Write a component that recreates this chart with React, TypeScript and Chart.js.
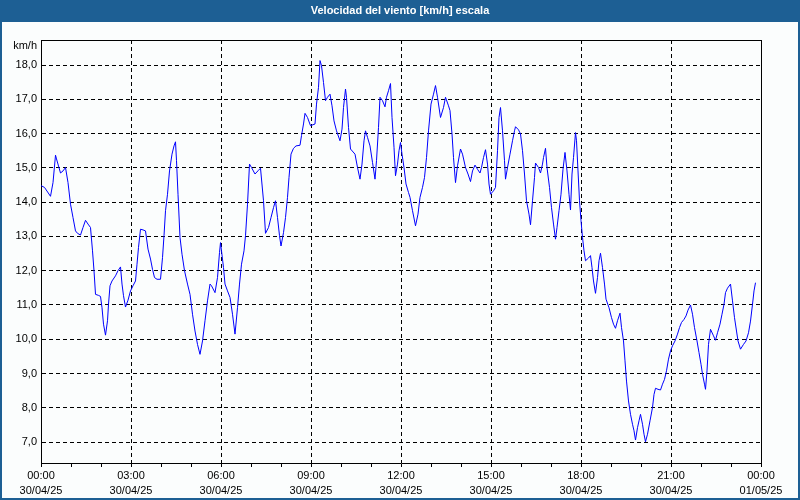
import React, { useEffect, useRef } from "react";
import { Chart, registerables } from "chart.js";

Chart.register(...registerables);

const TITLE = "Velocidad del viento [km/h] escala";
const UNIT = "km/h";

// minutes since 30/04/25 00:00
const MINUTES = [
  0, 7, 19, 24, 29, 31, 39, 44, 49, 54, 59, 64, 69, 73, 79, 84, 89, 94, 99, 103,
  106, 109, 115, 119, 122, 125, 129, 133, 135, 138, 142, 149, 154, 159, 162, 165, 169, 174, 179, 184,
  189, 192, 195, 199, 204, 209, 214, 219, 223, 227, 232, 239, 243, 246, 249, 253, 257, 262, 266, 269,
  271, 274, 278, 282, 287, 293, 298, 303, 308, 313, 318, 323, 328, 333, 338, 341, 348, 353, 357, 359,
  361, 365, 368, 373, 378, 383, 388, 393, 397, 401, 406, 409, 413, 417, 421, 428, 435, 439, 445, 449,
  455, 460, 465, 469, 473, 477, 480, 485, 489, 493, 496, 500, 505, 510, 518, 521, 525, 528, 533, 539,
  548, 551, 555, 558, 561, 565, 569, 573, 578, 582, 586, 591, 598, 602, 605, 609, 611, 615, 619, 628,
  633, 638, 642, 646, 649, 653, 658, 663, 668, 671, 675, 678, 683, 688, 691, 695, 699, 702, 706, 709,
  713, 716, 719, 722, 726, 730, 735, 738, 743, 749, 754, 758, 763, 767, 771, 775, 780, 785, 789, 793,
  799, 805, 809, 815, 818, 822, 825, 829, 833, 839, 843, 849, 854, 859, 863, 868, 873, 878, 881, 885,
  889, 893, 896, 899, 905, 909, 913, 916, 919, 923, 927, 929, 933, 938, 943, 947, 949, 955, 959, 963,
  967, 971, 976, 979, 983, 987, 989, 995, 999, 1003, 1005, 1009, 1012, 1017, 1021, 1025, 1029, 1032, 1036, 1040,
  1044, 1048, 1052, 1056, 1059, 1062, 1065, 1069, 1071, 1074, 1077, 1080, 1083, 1086, 1089, 1095, 1099, 1102, 1105, 1109,
  1113, 1116, 1119, 1123, 1127, 1130, 1136, 1141, 1145, 1149, 1153, 1158, 1161, 1165, 1168, 1171, 1175, 1179, 1183, 1186,
  1189, 1193, 1196, 1199, 1203, 1206, 1209, 1213, 1218, 1223, 1226, 1229, 1234, 1239, 1243, 1247, 1251, 1255, 1259, 1263,
  1268, 1273, 1277, 1281, 1286, 1290, 1294, 1299, 1303, 1307, 1312, 1316, 1320, 1323, 1327, 1329, 1332, 1335, 1339, 1345,
  1349, 1353, 1358, 1362, 1366, 1369, 1373, 1379, 1383, 1387, 1391, 1394, 1399, 1405, 1410, 1415, 1419, 1423, 1426, 1429,
];

// km/h
const SPEED = [
  14.48, 14.43, 14.17, 14.57, 15.37, 15.26, 14.85, 14.91, 15.01, 14.57, 13.94, 13.55, 13.16, 13.09, 13.04, 13.26, 13.47, 13.36, 13.26, 12.58,
  12.0, 11.31, 11.28, 11.25, 10.92, 10.44, 10.12, 10.54, 11.02, 11.56, 11.7, 11.85, 12.0, 12.11, 11.61, 11.27, 10.94, 11.14, 11.41, 11.56,
  11.7, 12.19, 12.68, 13.21, 13.19, 13.16, 12.63, 12.34, 12.04, 11.8, 11.75, 11.75, 12.38, 13.02, 13.75, 14.23, 14.91, 15.4, 15.64, 15.76,
  15.21, 14.23, 12.97, 12.48, 12.0, 11.61, 11.31, 10.73, 10.24, 9.85, 9.56, 9.95, 10.54, 11.12, 11.61, 11.56, 11.36, 11.8, 12.53, 12.82,
  12.58, 12.09, 11.61, 11.41, 11.22, 10.73, 10.15, 10.92, 11.61, 12.19, 12.58, 13.02, 13.94, 15.11, 15.01, 14.82, 14.93, 14.99, 14.04, 13.09,
  13.26, 13.55, 13.84, 14.04, 13.55, 13.02, 12.72, 13.11, 13.55, 14.14, 14.72, 15.4, 15.57, 15.64, 15.66, 15.94, 16.28, 16.59, 16.47, 16.23,
  16.28, 16.86, 17.35, 18.13, 17.98, 17.49, 16.96, 17.06, 17.15, 16.81, 16.37, 16.08, 15.79, 16.13, 16.76, 17.3, 17.06, 16.18, 15.55, 15.4,
  15.01, 14.67, 15.11, 15.79, 16.08, 15.89, 15.64, 15.16, 14.67, 15.21, 16.18, 17.06, 16.96, 16.78, 17.06, 17.25, 17.46, 16.47, 15.6, 14.77,
  15.11, 15.5, 15.74, 15.4, 15.01, 14.53, 14.28, 14.14, 13.75, 13.31, 13.65, 14.14, 14.43, 14.72, 15.3, 16.08, 16.86, 17.15, 17.4, 17.06,
  16.47, 16.76, 17.06, 16.81, 16.67, 15.99, 15.3, 14.57, 15.06, 15.55, 15.4, 15.01, 14.82, 14.6, 14.91, 15.08, 14.96, 14.85, 15.01, 15.3,
  15.53, 15.11, 14.53, 14.23, 14.33, 14.43, 15.5, 16.47, 16.76, 16.08, 15.21, 14.67, 15.01, 15.4, 15.79, 16.08, 16.2, 16.11, 15.99, 15.5,
  14.82, 14.04, 13.65, 13.34, 14.04, 14.72, 15.14, 15.01, 14.85, 15.11, 15.3, 15.57, 15.01, 14.43, 13.84, 13.36, 12.92, 13.26, 13.75, 14.23,
  14.96, 15.45, 14.91, 14.23, 13.77, 14.82, 15.3, 16.03, 15.79, 14.91, 14.04, 13.46, 12.97, 12.58, 12.29, 12.37, 12.44, 12.09, 11.7, 11.34,
  11.8, 12.29, 12.51, 12.09, 11.61, 11.17, 10.92, 10.63, 10.44, 10.32, 10.54, 10.76, 10.34, 9.95, 9.37, 8.78, 8.2, 7.81, 7.52, 7.33,
  7.06, 7.42, 7.62, 7.81, 7.52, 7.23, 7.01, 7.23, 7.62, 8.01, 8.39, 8.57, 8.54, 8.52, 8.69, 8.83, 9.08, 9.42, 9.66, 9.81,
  9.95, 10.15, 10.34, 10.49, 10.58, 10.68, 10.85, 11.0, 10.73, 10.34, 9.95, 9.61, 9.27, 8.98, 8.69, 8.54, 9.08, 9.85, 10.29, 10.1,
  9.97, 10.19, 10.44, 10.73, 11.02, 11.36, 11.49, 11.61, 11.12, 10.63, 10.24, 9.95, 9.71, 9.85, 9.95, 10.19, 10.53, 11.02, 11.41, 11.65,
];

const X_MIN = 0;
const X_MAX = 1440;
const X_MINOR_TICKS = [0, 60, 120, 180, 240, 300, 360, 420, 480, 540, 600, 660, 720, 780, 840, 900, 960, 1020, 1080, 1140, 1200, 1260, 1320, 1380, 1440];
const X_LABEL_TIMES = [0, 180, 360, 540, 720, 900, 1080, 1260, 1440];
const X_LABEL_HOURS = ["00:00", "03:00", "06:00", "09:00", "12:00", "15:00", "18:00", "21:00", "00:00"];
const X_LABEL_DATES = ["30/04/25", "30/04/25", "30/04/25", "30/04/25", "30/04/25", "30/04/25", "30/04/25", "30/04/25", "01/05/25"];

const Y_MIN = 6.39;
const Y_MAX = 18.73;
const Y_TICKS = [7, 8, 9, 10, 11, 12, 13, 14, 15, 16, 17, 18];

const FONT = '"Liberation Sans", Arial, sans-serif';
const FRAME_BLUE = "#1d5f94";
const BG = "#fbfdfd";

export default function App() {
  const ref = useRef<HTMLCanvasElement>(null);

  useEffect(() => {
    const canvas = ref.current;
    if (!canvas) return;

    const framePlugin = {
      id: "frame",
      beforeDraw(chart: any) {
        const { ctx, width, height } = chart;
        ctx.save();
        ctx.fillStyle = FRAME_BLUE;
        ctx.fillRect(0, 0, width, height);
        ctx.fillStyle = BG;
        ctx.fillRect(2, 22, width - 4, height - 24);
        ctx.fillStyle = "#ffffff";
        ctx.font = `bold 11px ${FONT}`;
        ctx.textAlign = "center";
        ctx.textBaseline = "middle";
        ctx.fillText(TITLE, width / 2, 11);
        ctx.fillStyle = "#000000";
        ctx.font = `11px ${FONT}`;
        ctx.textAlign = "right";
        ctx.fillText(UNIT, 37, 46);
        ctx.restore();
      },
      afterDraw(chart: any) {
        const { ctx, chartArea: a } = chart;
        ctx.save();
        ctx.strokeStyle = "#000000";
        ctx.lineWidth = 1;
        ctx.setLineDash([]);
        ctx.beginPath();
        ctx.moveTo(Math.round(a.left), Math.round(a.top) + 0.5);
        ctx.lineTo(Math.round(a.right) + 1, Math.round(a.top) + 0.5);
        ctx.moveTo(Math.round(a.right) + 0.5, Math.round(a.top));
        ctx.lineTo(Math.round(a.right) + 0.5, Math.round(a.bottom) + 1);
        ctx.stroke();
        ctx.restore();
      },
    };

    const points = MINUTES.map((m, i) => ({ x: m, y: SPEED[i] }));

    const chart = new Chart(canvas, {
      type: "line",
      data: {
        datasets: [
          {
            data: points,
            borderColor: "#0000ff",
            borderWidth: 1,
            pointRadius: 0,
            tension: 0,
            fill: false,
          },
        ],
      },
      options: {
        animation: false,
        responsive: false,
        devicePixelRatio: 1,
        layout: { padding: { top: 40, right: 39, left: 0, bottom: 0 } },
        plugins: {
          legend: { display: false },
          title: { display: false },
          tooltip: { enabled: false },
        },
        scales: {
          x: {
            type: "linear",
            min: X_MIN,
            max: X_MAX,
            afterBuildTicks: (s: any) => {
              s.ticks = X_MINOR_TICKS.map((v) => ({ value: v }));
            },
            afterFit: (s: any) => {
              s.height = 37;
            },
            ticks: {
              autoSkip: false,
              maxRotation: 0,
              minRotation: 0,
              padding: 2,
              color: "#000000",
              font: { family: FONT, size: 11, lineHeight: 1.35 },
              callback: (v: any) => {
                const i = X_LABEL_TIMES.indexOf(Number(v));
                return i >= 0 ? [X_LABEL_HOURS[i], X_LABEL_DATES[i]] : "";
              },
            },
            grid: {
              color: (c: any) =>
                c.tick && c.tick.value % 180 === 0 ? "#000000" : "rgba(0,0,0,0)",
              tickColor: "#000000",
              tickLength: 4,
              tickBorderDash: [],
              lineWidth: 1,
            },
            border: { display: true, color: "#000000", width: 1, dash: [4, 3] },
          },
          y: {
            type: "linear",
            min: Y_MIN,
            max: Y_MAX,
            afterBuildTicks: (s: any) => {
              s.ticks = Y_TICKS.map((v) => ({ value: v }));
            },
            afterFit: (s: any) => {
              s.width = 41;
            },
            ticks: {
              padding: 4,
              color: "#000000",
              font: { family: FONT, size: 11 },
              callback: (v: any) => Number(v).toFixed(1).replace(".", ","),
            },
            grid: { color: "#000000", drawTicks: false, lineWidth: 1 },
            border: { display: true, color: "#000000", width: 1, dash: [4, 3] },
          },
        },
      } as any,
      plugins: [framePlugin],
    });

    return () => chart.destroy();
  }, []);

  return (
    <div style={{ position: "absolute", left: 0, top: 0, width: 800, height: 500 }}>
      <canvas ref={ref} width={800} height={500} style={{ display: "block" }} />
    </div>
  );
}
